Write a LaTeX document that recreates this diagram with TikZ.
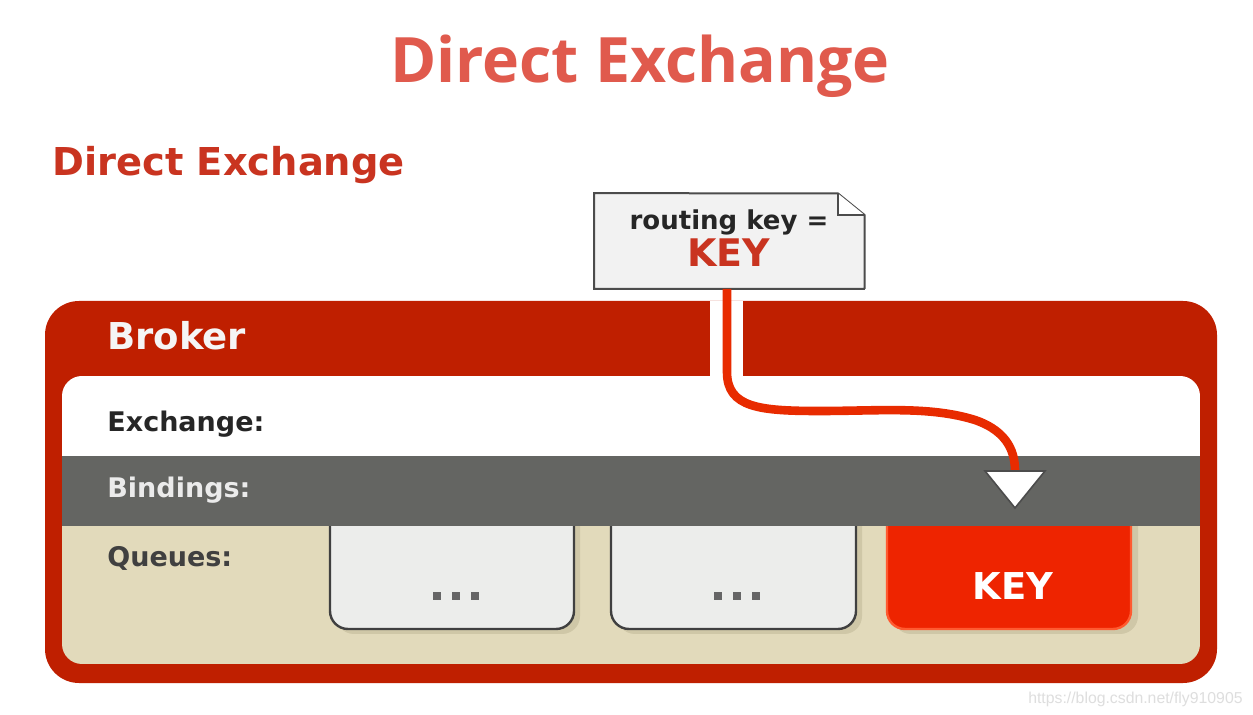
\documentclass[tikz,border=0pt]{standalone}
\usepackage{fontspec}
\setmainfont{DejaVu Sans}
\newfontfamily\titlefont{Open Sans}
\newfontfamily\wmfont{Liberation Sans}
\definecolor{brokerred}{HTML}{BF1F00}
\definecolor{bandgray}{HTML}{646562}
\definecolor{beige}{HTML}{E2DABB}
\definecolor{beigeshadow}{HTML}{CFC7A7}
\definecolor{titlered}{HTML}{E05A4D}
\definecolor{subred}{HTML}{C93420}
\definecolor{routered}{HTML}{E82B00}
\definecolor{keyred}{HTML}{EE2400}
\definecolor{keyedge}{HTML}{FF5A30}
\definecolor{qfill}{HTML}{ECEDEB}
\definecolor{notefill}{HTML}{F2F2F2}
\definecolor{dotgray}{HTML}{666666}
\begin{document}
\begin{tikzpicture}[x=0.5pt,y=-0.5pt,
  lbl/.style={anchor=base west,inner sep=0pt,font=\bfseries\fontsize{13.5pt}{16pt}\selectfont},
  qbox/.style={fill=qfill,draw=black!75,line width=1.2pt,rounded corners=9pt},
  qshadow/.style={fill=beigeshadow,rounded corners=9pt},
  route/.style={draw=routered,line width=4.3pt},
  dot/.style={fill=dotgray,minimum size=4pt,inner sep=0pt}]
\useasboundingbox (0,0) rectangle (1253,715);
\fill[white] (0,0) rectangle (1253,715);
% titles
\node[anchor=base,inner sep=0pt,text=titlered,font=\titlefont\bfseries\fontsize{31.3pt}{36pt}\selectfont] (title) at (640,83) {Direct Exchange};
\node[anchor=base west,inner sep=0pt,text=subred,font=\bfseries\fontsize{19.2pt}{22pt}\selectfont] (subtitle) at (52,176) {Direct Exchange};
% broker
\fill[brokerred,rounded corners=17pt] (45,301) rectangle (1217,683);
\fill[white] (710,301) rectangle (743,377);
\node[anchor=base west,inner sep=0pt,text=white!96!black,font=\bfseries\fontsize{18.5pt}{22pt}\selectfont] (broker) at (107,350) {Broker};
\begin{scope}
\clip[rounded corners=10pt] (62,376) rectangle (1200,664);
\fill[white] (62,376) rectangle (1200,456);
\fill[beige] (62,526) rectangle (1200,664);
% queue shadows and boxes
\fill[qshadow] (336,520) -- (336,634) -- (580,634) -- (580,520);
\fill[qshadow] (617,520) -- (617,634) -- (862,634) -- (862,520);
\fill[qshadow] (893,520) -- (893,634) -- (1138,634) -- (1138,520);
\path[qbox] (330,520) -- (330,629) -- (574,629) -- (574,520);
\path[qbox] (611,520) -- (611,629) -- (856,629) -- (856,520);
\path[qbox,fill=keyred,draw=keyedge] (887,520) -- (887,629) -- (1131,629) -- (1131,520);
\fill[bandgray] (62,456) rectangle (1200,526);
\end{scope}
\foreach \q/\cx in {a/437,b/456,c/475}{\node[dot] (d1\q) at (\cx,596) {};}
\foreach \q/\cx in {a/718,b/737,c/756}{\node[dot] (d2\q) at (\cx,596) {};}
\node[anchor=base,inner sep=0pt,text=white,font=\bfseries\fontsize{18.5pt}{22pt}\selectfont] (qkey) at (1013,600) {KEY};
% labels
\node[lbl,text=black!85] (exch) at (107,432) {Exchange:};
\node[lbl,text=white!92!black] (bind) at (107,498) {Bindings:};
\node[lbl,text=black!75] (queues) at (107,567) {Queues:};
% note
\node[minimum width=135pt,minimum height=47.5pt,inner sep=0pt] (note) at (729.5,241) {};
\draw[fill=notefill,draw=black!70,line width=1pt] (note.north west) -- (838,193.5) -- (864.5,215) |- (note.south east) -- (note.south west) -- cycle;
\draw[draw=black!70,line width=0.8pt,fill=white] (838,193.5) -- (838,215) -- (864.5,215);
\node[anchor=base,inner sep=0pt,text=black!85,font=\bfseries\fontsize{13pt}{15pt}\selectfont] (rk) at (729,230) {routing key =};
\node[anchor=base,inner sep=0pt,text=subred,font=\bfseries\fontsize{19pt}{22pt}\selectfont] (nkey) at (729,267) {KEY};
% route
\coordinate (tri) at (1015,471);
\draw[route] (note.south -| 727,0) -- (727,372) .. controls (727,408) and (760,411) .. (820,411)
  .. controls (880,411) and (930,406) .. (975,420) .. controls (1010,432) and (1015,455) .. (tri);
\draw[fill=white,draw=black!70,line width=0.8pt] (985,471) -- (1045,471) -- (1015,508) -- cycle;
% watermark
\node[anchor=base east,inner sep=0pt,text=black!13,font=\wmfont\fontsize{7.9pt}{10pt}\selectfont] (wm) at (1243,704) {https://blog.csdn.net/fly910905};
\end{tikzpicture}
\end{document}
